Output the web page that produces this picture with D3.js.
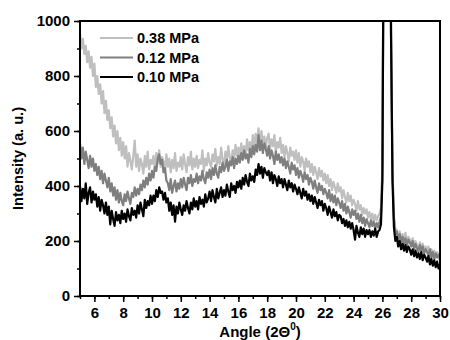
<!DOCTYPE html>
<html>
<head>
<meta charset="utf-8">
<script src="https://cdn.jsdelivr.net/npm/d3@7/dist/d3.min.js"></script>
<style>
	body { margin: 0; background: #fff; }
	svg { display: block; }
	text { font-family: 'Liberation Sans', Arial, sans-serif; font-weight: bold; fill: #000; }
</style>
</head>
<body>
<div id="chart"></div>
<script>
// angle grid: 5.0 .. 30.0 in steps of 0.1 (251 points)
const angleStart = 5
const angleStep = 0.1

const seriesNames = ['0.38 MPa', '0.12 MPa', '0.10 MPa']
const seriesColors = ['#bfbfbf', '#7f7f7f', '#000000']

const xTicks = [6, 8, 10, 12, 14, 16, 18, 20, 22, 24, 26, 28, 30]
const yTicks = [0, 200, 400, 600, 800, 1000]

// 0.38 MPa
const p038 = [
	955, 900, 935, 880, 910, 850, 890, 830, 870, 800, 845,
	760, 800, 735, 770, 700, 745, 665, 710, 640, 675,
	610, 650, 580, 620, 555, 600, 530, 575, 510, 560,
	500, 545, 470, 520, 490, 460, 510, 565, 470, 515,
	455, 500, 480, 445, 510, 470, 525, 460, 495, 480,
	510, 465, 520, 485, 530, 470, 505, 490, 455, 515,
	470, 500, 450, 495, 465, 520, 455, 485, 470, 505,
	460, 515, 480, 450, 505, 475, 525, 460, 500, 470,
	510, 465, 495, 480, 530, 455, 500, 475, 520, 485,
	470, 515, 490, 535, 475, 505, 480, 540, 495, 470,
	525, 490, 545, 505, 480, 530, 500, 550, 510, 540,
	505, 555, 520, 545, 510, 570, 530, 560, 520, 585,
	540, 590, 555, 610, 545, 600, 560, 580, 540, 575,
	590, 535, 570, 545, 585, 520, 560, 540, 575, 520,
	550, 505, 545, 520, 490, 540, 510, 525, 495, 530,
	485, 520, 470, 505, 490, 455, 500, 470, 490, 450,
	480, 440, 470, 450, 425, 465, 435, 455, 420, 445,
	410, 440, 400, 425, 385, 415, 395, 375, 410, 380,
	395, 355, 385, 360, 340, 375, 345, 365, 330, 350,
	335, 310, 345, 315, 330, 295, 320, 300, 315, 285,
	305, 280, 300, 270, 295, 275, 290, 300,
	320, 480, 1500, 3000, 3500, 3000, 1900, 950, 460, 290,
	245, 240,
	220, 235, 205, 225, 200, 230, 195, 215, 205, 190,
	210, 180, 200, 185, 170, 195, 175, 190, 165, 180,
	165, 180, 155, 170, 150, 165, 140, 160, 145, 150
]

// 0.12 MPa
const p012 = [
	555, 500, 540, 480, 525, 495, 465, 510, 470, 500, 455,
	480, 440, 470, 425, 455, 410, 445, 420, 395, 430,
	380, 410, 365, 395, 350, 385, 340, 375, 345, 330,
	370, 345, 380, 355, 335, 375, 360, 395, 365, 390,
	370, 405, 385, 420, 395, 430, 405, 445, 420, 455,
	430, 470, 455, 500, 515, 480, 495, 450, 465, 420,
	410, 385, 425, 375, 400, 420, 380, 410, 390, 425,
	395, 430, 405, 385, 430, 410, 440, 400, 425, 415,
	445, 410, 435, 420, 455, 425, 410, 450, 430, 460,
	425, 465, 440, 475, 445, 430, 470, 450, 485, 455,
	470, 495, 455, 490, 475, 505, 465, 500, 480, 510,
	485, 520, 495, 530, 500, 515, 485, 535, 505, 545,
	515, 550, 525, 585, 530, 565, 520, 555, 535, 510,
	545, 500, 530, 510, 480, 525, 495, 515, 485, 505,
	475, 500, 465, 490, 470, 445, 485, 460, 475, 440,
	465, 430, 455, 440, 415, 450, 425, 440, 405, 430,
	415, 390, 420, 395, 375, 410, 385, 400, 370, 390,
	375, 355, 385, 345, 370, 340, 365, 330, 355, 340,
	320, 345, 310, 335, 300, 325, 305, 285, 315, 295,
	310, 280, 300, 270, 295, 265, 285, 255, 280, 265,
	250, 275, 255, 270, 245, 265, 250, 270,
	290, 450, 1500, 3000, 3500, 3000, 1900, 950, 450, 280,
	225, 235,
	205, 225, 195, 215, 190, 210, 180, 205, 195, 180,
	200, 170, 190, 175, 160, 185, 165, 180, 155, 170,
	160, 145, 170, 140, 160, 135, 155, 140, 150, 130
]

// 0.10 MPa
const p010 = [
	400, 345, 390, 355, 410, 335, 375, 395, 340, 380, 350,
	370, 325, 360, 310, 350, 330, 300, 340, 295, 325,
	260, 310, 280, 255, 305, 275, 295, 265, 310, 280,
	300, 270, 315, 290, 275, 320, 295, 310, 285, 330,
	300, 340, 315, 290, 350, 320, 345, 330, 365, 335,
	365, 345, 385, 360, 395, 375, 380, 350, 375, 340,
	355, 310, 340, 295, 330, 270, 325, 300, 340, 315,
	295, 330, 310, 345, 320, 300, 340, 315, 355, 325,
	345, 315, 360, 335, 350, 325, 370, 340, 355, 380,
	345, 385, 360, 340, 390, 355, 375, 395, 360, 385,
	365, 405, 380, 360, 410, 385, 400, 375, 415, 395,
	420, 390, 430, 405, 440, 415, 400, 445, 420, 435,
	415, 460, 440, 480, 445, 470, 430, 465, 450, 440,
	455, 420, 450, 410, 440, 425, 400, 435, 410, 425,
	395, 425, 405, 385, 420, 395, 410, 380, 405, 390,
	370, 395, 375, 355, 390, 365, 380, 350, 370, 345,
	365, 335, 360, 340, 320, 350, 330, 345, 310, 335,
	320, 295, 325, 305, 285, 315, 290, 305, 275, 295,
	290, 265, 280, 255, 275, 250, 270, 245, 265, 240,
	205, 255, 230, 215, 250, 225, 245, 215, 240, 225,
	240, 215, 235, 220, 245, 215, 235, 240,
	260, 420, 1500, 3000, 3500, 3000, 1900, 950, 420, 250,
	200, 215,
	180, 200, 170, 190, 165, 185, 160, 180, 170, 150,
	170, 145, 165, 140, 155, 135, 160, 130, 150, 140,
	125, 145, 115, 135, 110, 130, 105, 125, 100, 115
]

const series = [p038, p012, p010]

const width = 450
const height = 340
const margin = { top: 21, right: 10, bottom: 44, left: 80 }
const plotW = width - margin.left - margin.right
const plotH = height - margin.top - margin.bottom

const svg = d3.select('#chart').append('svg').attr('width', width).attr('height', height)

const x = d3.scaleLinear().domain([5, 30]).range([0, plotW])
const y = d3.scaleLinear().domain([0, 1000]).range([plotH, 0])

const g = svg.append('g').attr('transform', `translate(${margin.left},${margin.top})`)

g.append('clipPath').attr('id', 'clip')
	.append('rect').attr('width', plotW).attr('height', plotH)

const line = d3.line()
	.x((d, i) => x(angleStart + i * angleStep))
	.y((d) => y(d))

// curves, lightest first so black sits on top
const curves = g.append('g').attr('clip-path', 'url(#clip)')
series.forEach(function (s, k) {
	curves.append('path')
		.datum(s)
		.attr('d', line)
		.attr('fill', 'none')
		.attr('stroke', seriesColors[k])
		.attr('stroke-width', 2.2)
		.attr('stroke-linejoin', 'round')
})

// minor ticks
g.append('g').attr('transform', `translate(0,${plotH})`)
	.call(d3.axisBottom(x).tickValues(d3.range(5, 31, 1)).tickSize(3).tickFormat(''))
g.append('g')
	.call(d3.axisLeft(y).tickValues(d3.range(0, 1001, 100)).tickSize(3).tickFormat(''))

// major ticks + labels
const xAxis = g.append('g').attr('transform', `translate(0,${plotH})`)
	.call(d3.axisBottom(x).tickValues(xTicks).tickSize(6).tickPadding(4))
const yAxis = g.append('g')
	.call(d3.axisLeft(y).tickValues(yTicks).tickSize(6).tickPadding(4).tickFormat(d3.format('d')))

g.selectAll('.domain').remove()
g.selectAll('.tick line').attr('stroke', '#000').attr('stroke-width', 1.5)
xAxis.selectAll('text').attr('font-size', 15).attr('font-family', null).attr('dy', '0.8em')
yAxis.selectAll('text').attr('font-size', 15).attr('font-family', null)

// frame
g.append('rect')
	.attr('width', plotW).attr('height', plotH)
	.attr('fill', 'none').attr('stroke', '#000').attr('stroke-width', 2)

// axis titles
const xt = svg.append('text')
	.attr('x', margin.left + plotW / 2).attr('y', 337)
	.attr('text-anchor', 'middle').attr('font-size', 15)
xt.append('tspan').text('Angle (2Θ')
xt.append('tspan').text('0').attr('font-size', 10).attr('dy', -7)
xt.append('tspan').text(')').attr('dy', 7)

svg.append('text')
	.attr('transform', `translate(23,${margin.top + plotH / 2}) rotate(-90)`)
	.attr('text-anchor', 'middle').attr('font-size', 14.6)
	.text('Intensity (a. u.)')

// legend
const legend = g.append('g').attr('transform', 'translate(20,17)')
seriesNames.forEach(function (name, k) {
	const row = legend.append('g').attr('transform', `translate(0,${k * 19.5})`)
	row.append('line')
		.attr('x1', 0).attr('x2', 33)
		.attr('stroke', seriesColors[k]).attr('stroke-width', 2)
	row.append('text')
		.attr('x', 37).attr('dy', '0.35em')
		.attr('font-size', 14.5)
		.text(name)
})
</script>
</body>
</html>
